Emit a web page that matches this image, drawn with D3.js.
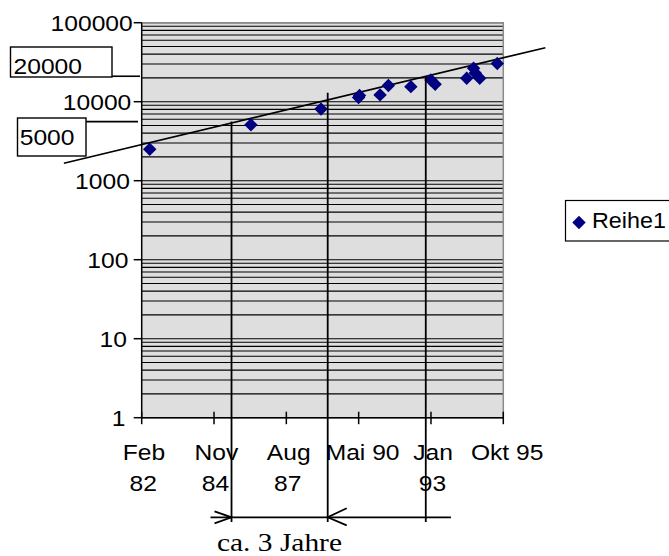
<!DOCTYPE html>
<html>
<head>
<meta charset="utf-8">
<script src="https://cdn.jsdelivr.net/npm/d3@7"></script>
<style>
  body { margin: 0; background: #fff; }
  svg { display: block; font-family: Arial, "Liberation Sans", sans-serif; }
</style>
</head>
<body>
<div id="chart"></div>
<script>
/**
 * DATA
 * */
const parse = d3.timeParse("%Y-%m-%d");

// series "Reihe1": measurement dates and values
const pointDates = ["1982-06-06", "1986-04-05", "1988-11-29", "1990-05-03", "1990-05-16",
  "1991-02-24", "1991-06-19", "1992-04-25", "1993-01-27", "1993-03-27",
  "1994-06-06", "1994-09-09", "1994-10-02", "1994-12-03", "1995-08-03"];
const pointValues = [2500, 5100, 8100, 11300, 12000,
  12200, 16000, 15500, 18800, 16600,
  19800, 26500, 23100, 19800, 30500];
const seriesName = "Reihe1";

// x axis is a date axis with one tick every 1000 days
const axisStart = "1982-02-15";
const axisStepDays = 1000;
const xTickLabels = [["Feb", "82"], ["Nov", "84"], ["Aug", "87"], ["Mai 90"], ["Jan", "93"], ["Okt 95"]];

// y axis (log)
const yTickValues = [1, 10, 100, 1000, 10000, 100000];

// the hand drawn trend line, two end points
const trendDates = ["1979-03-07", "1997-05-29"];
const trendValues = [1665, 48300];

// level lines with the boxed labels
const levelLabels = ["20000", "5000"];
const levelValues = [21000, 5600];

// vertical marker lines: date and the value where they start
const markerDates = ["1985-07-11", "1989-03-02", "1992-11-17"];
const markerValues = [5600, 13000, 21000];

// arrow line under the axis
const arrowDates = ["1984-09-23", "1993-10-31"];
const arrowNote = "ca. 3 Jahre";

/**
 * CONSTANTS
 * */
const width = 669,
  height = 556,
  plot = { left: 141.7, right: 503.3, top: 22.7, bottom: 417.7 },
  fontSize = 22,
  stretch = 1.12,
  arrowY = 517.3,
  markerBottom = 522;

const svg = d3.select("#chart").append("svg")
  .attr("width", width)
  .attr("height", height);

// text in the reference is a bit wider than Arial, so scale it sideways
function wideText(g, x, y, str, anchor, sx = stretch) {
  const t = g.append("text").attr("font-size", fontSize).attr("fill", "#000").text(str);
  const w = t.node().getComputedTextLength();
  const x0 = anchor === "end" ? x - w : anchor === "middle" ? x - w / 2 : x;
  t.attr("transform", `translate(${x0},${y}) scale(${sx},1)`);
  return t;
}

/**
 * SCALES
 * */
const start = parse(axisStart);
const xTicks = d3.range(xTickLabels.length).map(i => d3.timeDay.offset(start, i * axisStepDays));

const xScale = d3.scaleTime()
  .domain([start, xTicks[xTicks.length - 1]])
  .range([plot.left, plot.right]);

const yScale = d3.scaleLog()
  .domain([1, 100000])
  .range([plot.bottom, plot.top]);

// plot background
svg.append("rect")
  .attr("x", plot.left)
  .attr("y", plot.top)
  .attr("width", plot.right - plot.left)
  .attr("height", plot.bottom - plot.top)
  .attr("fill", "#dedede");

// grid lines at 1..9 x 10^k
const gridValues = [];
for (let k = 0; k < 5; k++) {
  for (let m = 1; m < 10; m++) gridValues.push(m * Math.pow(10, k));
}
gridValues.push(100000);

svg.append("g")
  .selectAll("line")
  .data(gridValues)
  .join("line")
  .attr("x1", plot.left)
  .attr("x2", plot.right)
  .attr("y1", d => yScale(d))
  .attr("y2", d => yScale(d))
  .attr("stroke", "#000")
  .attr("stroke-width", 1.1);

// gray frame top and right
svg.append("path")
  .attr("d", `M${plot.left},${plot.top}H${plot.right}V${plot.bottom}`)
  .attr("fill", "none")
  .attr("stroke", "#8a8a8a")
  .attr("stroke-width", 1.5);

// y axis
svg.append("line")
  .attr("x1", plot.left).attr("x2", plot.left)
  .attr("y1", plot.top).attr("y2", plot.bottom)
  .attr("stroke", "#000").attr("stroke-width", 1.5);

const yAxisG = svg.append("g");
yAxisG.selectAll("line")
  .data(yTickValues)
  .join("line")
  .attr("x1", plot.left - 8)
  .attr("x2", plot.left)
  .attr("y1", d => yScale(d))
  .attr("y2", d => yScale(d))
  .attr("stroke", "#000")
  .attr("stroke-width", 1.5);
yTickValues.forEach(v => wideText(yAxisG, 124, yScale(v) + 8.5, d3.format("d")(v), "end"));

// x axis
svg.append("line")
  .attr("x1", plot.left).attr("x2", plot.right)
  .attr("y1", plot.bottom).attr("y2", plot.bottom)
  .attr("stroke", "#000").attr("stroke-width", 1.5);

const xAxisG = svg.append("g");
xAxisG.selectAll("line")
  .data(xTicks)
  .join("line")
  .attr("x1", d => xScale(d))
  .attr("x2", d => xScale(d))
  .attr("y1", plot.bottom - 6)
  .attr("y2", plot.bottom + 6.5)
  .attr("stroke", "#000")
  .attr("stroke-width", 1.5);
xTicks.forEach((d, i) => {
  xTickLabels[i].forEach((line, j) => wideText(xAxisG, xScale(d), 460 + j * 31, line, "middle"));
});

// trend line
const trend = trendDates.map((d, i) => ({ date: parse(d), value: trendValues[i] }));
svg.append("path")
  .datum(trend)
  .attr("d", d3.line().x(d => xScale(d.date)).y(d => yScale(d.value)))
  .attr("fill", "none")
  .attr("stroke", "#000")
  .attr("stroke-width", 1.6);

// data points (diamonds)
const diamond = d3.symbol(d3.symbolSquare, 90);
const points = pointDates.map((d, i) => ({ date: parse(d), value: pointValues[i] }));
svg.append("g")
  .selectAll("path")
  .data(points)
  .join("path")
  .attr("d", diamond)
  .attr("transform", d => `translate(${xScale(d.date)},${yScale(d.value)}) rotate(45)`)
  .attr("fill", "#000080");

// level lines and boxes
const levelG = svg.append("g");
const boxes = [
  { x: 10.5, y: 47, w: 101.5, h: 30, tx: 13.5, ty: 74, lx1: 112, lx2: 140 },
  { x: 17.5, y: 118, w: 68.5, h: 38, tx: 19.7, ty: 144.5, lx1: 83, lx2: 138 }
];
levelLabels.forEach((lab, i) => {
  const b = boxes[i];
  levelG.append("line")
    .attr("x1", b.lx1).attr("x2", b.lx2)
    .attr("y1", yScale(levelValues[i])).attr("y2", yScale(levelValues[i]))
    .attr("stroke", "#000").attr("stroke-width", 1.6);
  levelG.append("rect")
    .attr("x", b.x).attr("y", b.y)
    .attr("width", b.w).attr("height", b.h)
    .attr("fill", "#fff")
    .attr("stroke", "#000").attr("stroke-width", 1.4);
  wideText(levelG, b.tx, b.ty, lab, "start");
});

// vertical marker lines
svg.append("g")
  .selectAll("line")
  .data(markerDates.map((d, i) => ({ date: parse(d), value: markerValues[i] })))
  .join("line")
  .attr("x1", d => xScale(d.date))
  .attr("x2", d => xScale(d.date))
  .attr("y1", d => yScale(d.value))
  .attr("y2", markerBottom)
  .attr("stroke", "#000")
  .attr("stroke-width", 1.8);

// arrow line with two heads pointing at the first two markers
const arrowG = svg.append("g").attr("fill", "none").attr("stroke", "#000").attr("stroke-width", 1.8);
arrowG.append("line")
  .attr("x1", xScale(parse(arrowDates[0])))
  .attr("x2", xScale(parse(arrowDates[1])))
  .attr("y1", arrowY).attr("y2", arrowY);
const m0 = xScale(parse(markerDates[0])), m1 = xScale(parse(markerDates[1]));
arrowG.append("path").attr("d", `M${m0 - 17},${arrowY - 6}L${m0},${arrowY}L${m0 - 17},${arrowY + 6}`);
arrowG.append("path").attr("d", `M${m1 + 19},${arrowY - 9}L${m1},${arrowY}L${m1 + 19},${arrowY + 8}`);

svg.append("text")
  .attr("x", 217)
  .attr("y", 551)
  .attr("font-family", "'Times New Roman', 'Liberation Serif', serif")
  .attr("font-size", 25)
  .attr("textLength", 125)
  .attr("lengthAdjust", "spacingAndGlyphs")
  .text(arrowNote);

// legend (box runs off the right edge like in the reference)
const legend = svg.append("g");
legend.append("rect")
  .attr("x", 565.5).attr("y", 200.5)
  .attr("width", 130).attr("height", 40.5)
  .attr("fill", "#fff")
  .attr("stroke", "#000").attr("stroke-width", 1.2);
legend.append("path")
  .attr("d", diamond)
  .attr("transform", "translate(579,222.5) rotate(45)")
  .attr("fill", "#000080");
wideText(legend, 592, 227.5, seriesName, "start", 1.06);
</script>
</body>
</html>
